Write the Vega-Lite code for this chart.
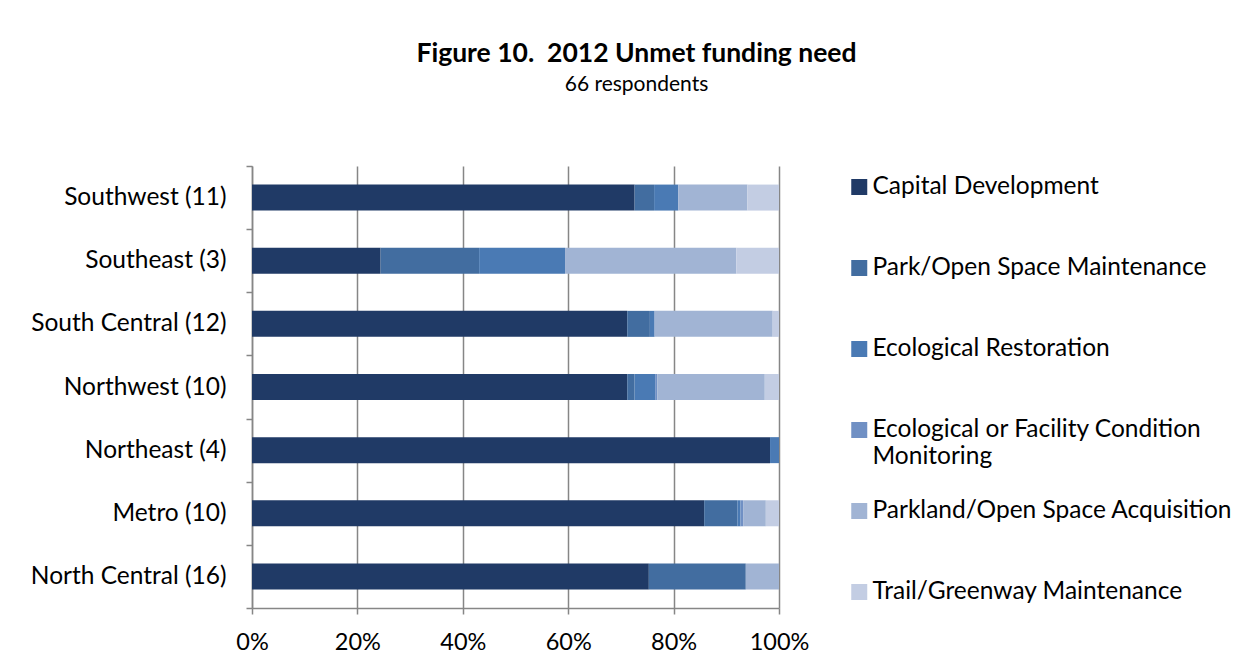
{
  "$schema": "https://vega.github.io/schema/vega-lite/v6.json",
  "autosize": {"type": "none"},
  "width": 527,
  "height": 442,
  "padding": {"left": 252, "top": 166, "right": 469, "bottom": 60},
  "background": "white",
  "config": {
    "font": "Lato",
    "view": {"stroke": null}
  },
  "title": {
    "text": "Figure 10.\u00a0 2012 Unmet funding need",
    "subtitle": "66 respondents",
    "font": "Lato",
    "fontSize": 26.5,
    "fontWeight": "bold",
    "subtitleFont": "Lato",
    "subtitleFontSize": 21,
    "subtitlePadding": 7,
    "color": "black",
    "subtitleColor": "black",
    "anchor": "middle",
    "dx": 121,
    "offset": 58
  },
  "data": {
    "values": [
      {"region": "Southwest (11)", "need": "Capital Development", "k": 1, "pct": 72.6},
      {"region": "Southwest (11)", "need": "Park/Open Space Maintenance", "k": 2, "pct": 3.7},
      {"region": "Southwest (11)", "need": "Ecological Restoration", "k": 3, "pct": 4.6},
      {"region": "Southwest (11)", "need": "Ecological or Facility Condition Monitoring", "k": 4, "pct": 0},
      {"region": "Southwest (11)", "need": "Parkland/Open Space Acquisition", "k": 5, "pct": 13.1},
      {"region": "Southwest (11)", "need": "Trail/Greenway Maintenance", "k": 6, "pct": 6.0},

      {"region": "Southeast (3)", "need": "Capital Development", "k": 1, "pct": 24.4},
      {"region": "Southeast (3)", "need": "Park/Open Space Maintenance", "k": 2, "pct": 18.7},
      {"region": "Southeast (3)", "need": "Ecological Restoration", "k": 3, "pct": 16.3},
      {"region": "Southeast (3)", "need": "Ecological or Facility Condition Monitoring", "k": 4, "pct": 0},
      {"region": "Southeast (3)", "need": "Parkland/Open Space Acquisition", "k": 5, "pct": 32.5},
      {"region": "Southeast (3)", "need": "Trail/Greenway Maintenance", "k": 6, "pct": 8.1},

      {"region": "South Central (12)", "need": "Capital Development", "k": 1, "pct": 71.2},
      {"region": "South Central (12)", "need": "Park/Open Space Maintenance", "k": 2, "pct": 4.3},
      {"region": "South Central (12)", "need": "Ecological Restoration", "k": 3, "pct": 0.9},
      {"region": "South Central (12)", "need": "Ecological or Facility Condition Monitoring", "k": 4, "pct": 0},
      {"region": "South Central (12)", "need": "Parkland/Open Space Acquisition", "k": 5, "pct": 22.4},
      {"region": "South Central (12)", "need": "Trail/Greenway Maintenance", "k": 6, "pct": 1.2},

      {"region": "Northwest (10)", "need": "Capital Development", "k": 1, "pct": 71.2},
      {"region": "Northwest (10)", "need": "Park/Open Space Maintenance", "k": 2, "pct": 1.4},
      {"region": "Northwest (10)", "need": "Ecological Restoration", "k": 3, "pct": 3.9},
      {"region": "Northwest (10)", "need": "Ecological or Facility Condition Monitoring", "k": 4, "pct": 0.4},
      {"region": "Northwest (10)", "need": "Parkland/Open Space Acquisition", "k": 5, "pct": 20.4},
      {"region": "Northwest (10)", "need": "Trail/Greenway Maintenance", "k": 6, "pct": 2.7},

      {"region": "Northeast (4)", "need": "Capital Development", "k": 1, "pct": 98.3},
      {"region": "Northeast (4)", "need": "Park/Open Space Maintenance", "k": 2, "pct": 0},
      {"region": "Northeast (4)", "need": "Ecological Restoration", "k": 3, "pct": 1.7},
      {"region": "Northeast (4)", "need": "Ecological or Facility Condition Monitoring", "k": 4, "pct": 0},
      {"region": "Northeast (4)", "need": "Parkland/Open Space Acquisition", "k": 5, "pct": 0},
      {"region": "Northeast (4)", "need": "Trail/Greenway Maintenance", "k": 6, "pct": 0},

      {"region": "Metro (10)", "need": "Capital Development", "k": 1, "pct": 85.8},
      {"region": "Metro (10)", "need": "Park/Open Space Maintenance", "k": 2, "pct": 6.3},
      {"region": "Metro (10)", "need": "Ecological Restoration", "k": 3, "pct": 0.6},
      {"region": "Metro (10)", "need": "Ecological or Facility Condition Monitoring", "k": 4, "pct": 0.5},
      {"region": "Metro (10)", "need": "Parkland/Open Space Acquisition", "k": 5, "pct": 4.3},
      {"region": "Metro (10)", "need": "Trail/Greenway Maintenance", "k": 6, "pct": 2.5},

      {"region": "North Central (16)", "need": "Capital Development", "k": 1, "pct": 75.3},
      {"region": "North Central (16)", "need": "Park/Open Space Maintenance", "k": 2, "pct": 18.4},
      {"region": "North Central (16)", "need": "Ecological Restoration", "k": 3, "pct": 0},
      {"region": "North Central (16)", "need": "Ecological or Facility Condition Monitoring", "k": 4, "pct": 0},
      {"region": "North Central (16)", "need": "Parkland/Open Space Acquisition", "k": 5, "pct": 6.3},
      {"region": "North Central (16)", "need": "Trail/Greenway Maintenance", "k": 6, "pct": 0}
    ]
  },
  "mark": {"type": "bar", "size": 26},
  "encoding": {
    "y": {
      "field": "region",
      "type": "nominal",
      "sort": ["Southwest (11)", "Southeast (3)", "South Central (12)", "Northwest (10)", "Northeast (4)", "Metro (10)", "North Central (16)"],
      "scale": {"paddingInner": 0, "paddingOuter": 0},
      "axis": {
        "title": null,
        "tickBand": "extent",
        "grid": false,
        "domainColor": "#868686",
        "domainWidth": 1.5,
        "tickColor": "#868686",
        "tickWidth": 1.5,
        "tickSize": 6,
        "labelFontSize": 24.5,
        "labelColor": "black",
        "labelPadding": 20,
        "labelLimit": 300
      }
    },
    "x": {
      "field": "pct",
      "type": "quantitative",
      "stack": "normalize",
      "scale": {"domain": [0, 1], "nice": false},
      "axis": {
        "title": null,
        "format": ".0%",
        "values": [0, 0.2, 0.4, 0.6, 0.8, 1],
        "grid": true,
        "gridColor": "#868686",
        "gridWidth": 1.5,
        "gridOpacity": 1,
        "domainColor": "#868686",
        "domainWidth": 1.5,
        "tickColor": "#868686",
        "tickWidth": 1.5,
        "tickSize": 6,
        "labelFontSize": 23.5,
        "labelColor": "black",
        "labelPadding": 16,
        "labelFlush": false
      }
    },
    "color": {
      "field": "need",
      "type": "nominal",
      "scale": {
        "domain": ["Capital Development", "Park/Open Space Maintenance", "Ecological Restoration", "Ecological or Facility Condition Monitoring", "Parkland/Open Space Acquisition", "Trail/Greenway Maintenance"],
        "range": ["#203a66", "#426da0", "#4a7ab4", "#7090c4", "#a1b4d4", "#c3cde3"]
      },
      "legend": {
        "title": null,
        "orient": "right",
        "offset": 59,
        "symbolType": "square",
        "symbolSize": 256,
        "symbolStrokeWidth": 0,
        "labelFontSize": 24.5,
        "labelColor": "black",
        "labelLimit": 420,
        "labelOffset": 1,
        "clipHeight": 24,
        "gridAlign": "all",
        "rowPadding": 30,
        "padding": 9,
        "labelExpr": "datum.label == 'Ecological or Facility Condition Monitoring' ? ['Ecological or Facility Condition', 'Monitoring'] : datum.label"
      }
    },
    "order": {"field": "k", "type": "quantitative"}
  }
}
